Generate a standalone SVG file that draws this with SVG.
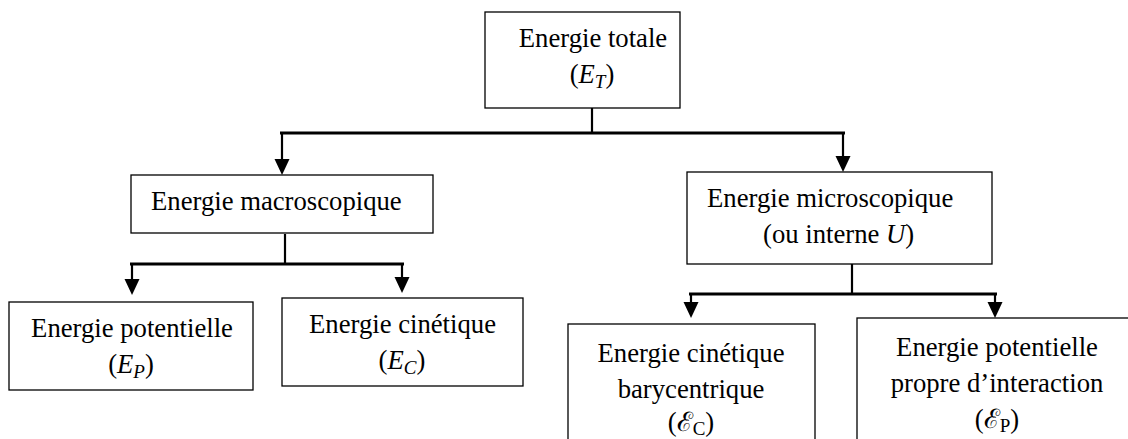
<svg xmlns="http://www.w3.org/2000/svg" width="1128" height="439" viewBox="0 0 1128 439">
<style>
.box{fill:#fff;stroke:#000;stroke-width:1.3}
text{font-family:'Liberation Serif','Times New Roman',Times,'DejaVu Serif',serif;font-size:26.7px;fill:#000}
.c{text-anchor:middle}
.i{font-style:italic}
.ln{fill:none;stroke:#000;stroke-width:3.2}
.vl{fill:none;stroke:#000;stroke-width:2.2}
.ah{fill:#000}
</style>
<rect width="1128" height="439" fill="#fff"/>
<g id="connectors">
<path class="vl" d="M592 108V133"/>
<path class="ln" d="M280 133H845"/>
<path class="vl" d="M282 133V162"/>
<polygon class="ah" points="274.5,159 289.5,159 282,175"/>
<path class="vl" d="M843 133V159"/>
<polygon class="ah" points="835.5,156 850.5,156 843,172"/>
<path class="vl" d="M285 234V264"/>
<path class="ln" d="M130 264H404"/>
<path class="vl" d="M132 264V282"/>
<polygon class="ah" points="124.5,279 139.5,279 132,295"/>
<path class="vl" d="M402 264V280"/>
<polygon class="ah" points="394.5,277 409.5,277 402,293"/>
<path class="vl" d="M852 264V294"/>
<path class="ln" d="M689 294H997"/>
<path class="vl" d="M691 294V305"/>
<polygon class="ah" points="683.5,302 698.5,302 691,318"/>
<path class="vl" d="M995 294V305"/>
<polygon class="ah" points="987.5,302 1002.5,302 995,318"/>
</g>
<g id="n-total">
<rect class="box" x="485" y="12" width="195" height="96"/>
<text class="c" x="593" y="47">Energie totale</text>
<text class="c" x="592" y="83">(<tspan class="i">E</tspan><tspan class="i" font-size="19" dy="5">T</tspan><tspan dy="-5">)</tspan></text>
</g>
<g id="n-macro">
<rect class="box" x="131" y="175" width="302" height="58"/>
<text x="151" y="210">Energie macroscopique</text>
</g>
<g id="n-micro">
<rect class="box" x="687" y="172" width="305" height="92"/>
<text x="707" y="207">Energie microscopique</text>
<text x="763" y="243">(ou interne <tspan class="i">U</tspan>)</text>
</g>
<g id="n-ep">
<rect class="box" x="9" y="302" width="244" height="88"/>
<text class="c" x="132" y="337">Energie potentielle</text>
<text class="c" x="131" y="373">(<tspan class="i">E</tspan><tspan class="i" font-size="19" dy="5">P</tspan><tspan dy="-5">)</tspan></text>
</g>
<g id="n-ec">
<rect class="box" x="282" y="298" width="241" height="88"/>
<text class="c" x="402.5" y="333">Energie cinétique</text>
<text class="c" x="402" y="369">(<tspan class="i">E</tspan><tspan class="i" font-size="19" dy="5">C</tspan><tspan dy="-5">)</tspan></text>
</g>
<g id="n-ecb">
<rect class="box" x="568" y="324" width="247" height="130"/>
<text class="c" x="691" y="362">Energie cinétique</text>
<text class="c" x="691" y="398">barycentrique</text>
<text class="c" x="691" y="431">(ℰ<tspan font-size="19" dy="4">C</tspan><tspan dy="-4">)</tspan></text>
</g>
<g id="n-epi">
<rect class="box" x="857" y="318" width="290" height="130"/>
<text class="c" x="997" y="356">Energie potentielle</text>
<text class="c" x="997" y="392">propre d’interaction</text>
<text class="c" x="997" y="428">(ℰ<tspan font-size="19" dy="4">P</tspan><tspan dy="-4">)</tspan></text>
</g>
</svg>
